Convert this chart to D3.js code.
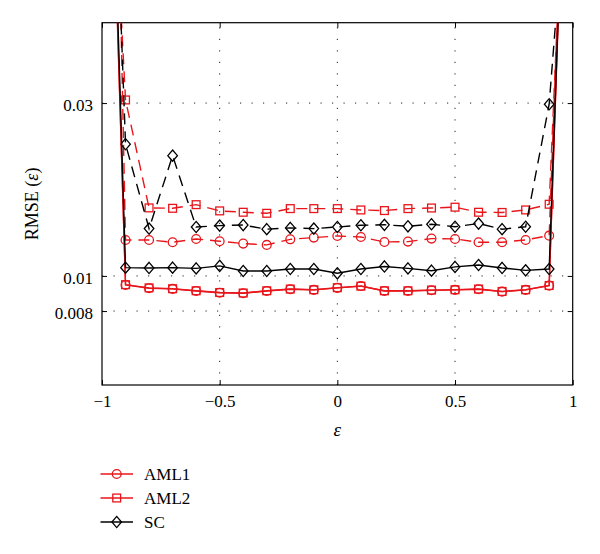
<!DOCTYPE html>
<html>
<head>
<meta charset="utf-8">
<script src="https://cdn.jsdelivr.net/npm/d3@7"></script>
<style>
  html, body { margin: 0; padding: 0; background: #fff; }
  svg { display: block; }
  text { font-family: "Liberation Serif", "DejaVu Serif", serif; }
</style>
</head>
<body>
<svg id="chart" width="600" height="554"></svg>
<script>
// ---- data ----
const epsValues = [-0.95, -0.9, -0.8, -0.7, -0.6, -0.5, -0.4, -0.3, -0.2, -0.1, 0, 0.1, 0.2, 0.3, 0.4, 0.5, 0.6, 0.7, 0.8, 0.9, 0.95];
const aml1Solid  = [0.105, 0.00944, 0.00925, 0.00921, 0.00909, 0.00899, 0.00896, 0.00909, 0.00919, 0.00915, 0.00927, 0.00938, 0.00909, 0.00909, 0.00913, 0.00915, 0.00919, 0.00905, 0.00915, 0.00940, 0.085];
const aml2Solid  = [0.110, 0.00946, 0.00927, 0.00922, 0.00910, 0.00900, 0.00897, 0.00910, 0.00920, 0.00916, 0.00928, 0.00937, 0.00910, 0.00910, 0.00914, 0.00916, 0.00920, 0.00906, 0.00916, 0.00941, 0.088];
const scSolid    = [0.118, 0.01054, 0.01052, 0.01054, 0.01049, 0.01066, 0.01032, 0.01032, 0.01045, 0.01045, 0.01017, 0.01045, 0.01062, 0.01049, 0.01034, 0.01059, 0.01072, 0.01052, 0.01036, 0.01045, 0.085];
const aml1Dashed = [0.45, 0.01257, 0.01257, 0.01239, 0.01265, 0.01247, 0.01228, 0.01218, 0.01262, 0.01276, 0.01289, 0.01281, 0.01241, 0.01244, 0.01268, 0.01265, 0.01239, 0.01239, 0.01257, 0.01292, 0.095];
const aml2Dashed = [0.129, 0.0306, 0.01541, 0.01537, 0.01573, 0.01512, 0.01499, 0.01489, 0.01534, 0.01534, 0.01534, 0.01521, 0.01515, 0.01534, 0.01540, 0.01548, 0.01499, 0.01497, 0.01521, 0.01577, 0.086];
const scDashed   = [0.175, 0.0231, 0.01351, 0.02148, 0.01365, 0.01377, 0.01382, 0.01346, 0.01357, 0.01351, 0.01365, 0.0138, 0.01384, 0.01371, 0.01389, 0.01367, 0.01395, 0.01346, 0.01367, 0.02978, 0.077];

const xTicks = [-1, -0.5, 0, 0.5, 1];
const xTickLabels = ["\u22121", "\u22120.5", "0", "0.5", "1"];
const yTicks = [0.008, 0.01, 0.03];
const yTickLabels = ["0.008", "0.01", "0.03"];
const legendNames = ["AML1", "AML2", "SC"];

// ---- layout ----
const svg = d3.select("#chart");
const L = 102, T = 22.7, W = 470.7, H = 362.3;
const RED = "#e8161b", BLACK = "#000";

const x = d3.scaleLinear().domain([-1, 1]).range([L, L + W]);
const y = d3.scaleLog().domain([0.005, 0.05]).range([T + H, T]);

svg.append("defs").append("clipPath").attr("id", "clip")
  .append("rect").attr("x", L).attr("y", T).attr("width", W).attr("height", H);

// grid
const grid = svg.append("g");
grid.selectAll(".gx").data(xTicks.slice(1, -1)).join("line")
  .attr("x1", d => x(d)).attr("x2", d => x(d)).attr("y1", T + H).attr("y2", T)
  .attr("stroke", "#222").attr("stroke-width", 1).attr("stroke-dasharray", "1.2,10.3");
grid.selectAll(".gy").data(yTicks).join("line")
  .attr("x1", L).attr("x2", L + W).attr("y1", d => y(d)).attr("y2", d => y(d))
  .attr("stroke", "#222").attr("stroke-width", 1).attr("stroke-dasharray", "1.2,10.3");

// axes (inward ticks)
const fontSize = "17px";
const axB = svg.append("g").attr("transform", `translate(0,${T + H})`)
  .call(d3.axisBottom(x).tickValues(xTicks).tickFormat((d, i) => xTickLabels[i]).tickSizeInner(-5).tickSizeOuter(0).tickPadding(10));
const axT = svg.append("g").attr("transform", `translate(0,${T})`)
  .call(d3.axisTop(x).tickValues(xTicks).tickFormat("").tickSizeInner(-5).tickSizeOuter(0));
const axLft = svg.append("g").attr("transform", `translate(${L},0)`)
  .call(d3.axisLeft(y).tickValues(yTicks).tickFormat((d, i) => yTickLabels[i]).tickSizeInner(-5).tickSizeOuter(0).tickPadding(9));
const axR = svg.append("g").attr("transform", `translate(${L + W},0)`)
  .call(d3.axisRight(y).tickValues(yTicks).tickFormat("").tickSizeInner(-5).tickSizeOuter(0));
[axB, axT, axLft, axR].forEach(a => {
  a.select(".domain").remove();
  a.selectAll("line").attr("stroke", "#000").attr("stroke-width", 1);
  a.selectAll("text").attr("font-family", "Liberation Serif").attr("font-size", fontSize).attr("fill", "#000");
});
axB.selectAll("text").attr("dy", "0.71em");
axLft.selectAll("text").attr("dy", "0.42em");

// frame
svg.append("rect").attr("x", L).attr("y", T).attr("width", W).attr("height", H)
  .attr("fill", "none").attr("stroke", "#000").attr("stroke-width", 1.2);

// marker shapes
function drawMarker(g, type, cx, cy, color) {
  if (type === "circle") {
    g.append("circle").attr("cx", cx).attr("cy", cy).attr("r", 4.4)
      .attr("fill", "none").attr("stroke", color).attr("stroke-width", 1.3);
  } else if (type === "square") {
    g.append("rect").attr("x", cx - 3.9).attr("y", cy - 3.9).attr("width", 7.8).attr("height", 7.8)
      .attr("fill", "none").attr("stroke", color).attr("stroke-width", 1.3);
  } else {
    g.append("path").attr("d", `M${cx},${cy - 5.6}L${cx + 4.8},${cy}L${cx},${cy + 5.6}L${cx - 4.8},${cy}Z`)
      .attr("fill", "none").attr("stroke", color).attr("stroke-width", 1.3);
  }
}

const series = [
  { vals: aml1Dashed, color: RED, marker: "circle", dash: "11,7" },
  { vals: aml2Dashed, color: RED, marker: "square", dash: "11,7" },
  { vals: scDashed, color: BLACK, marker: "diamond", dash: "11,7" },
  { vals: aml1Solid, color: RED, marker: "circle", dash: null },
  { vals: aml2Solid, color: RED, marker: "square", dash: null },
  { vals: scSolid, color: BLACK, marker: "diamond", dash: null }
];

const plot = svg.append("g").attr("clip-path", "url(#clip)");
const line = d3.line().x(d => x(d[0])).y(d => y(d[1]));
series.forEach(s => {
  const pts = epsValues.map((e, i) => [e, s.vals[i]]);
  plot.append("path").datum(pts).attr("d", line)
    .attr("fill", "none").attr("stroke", s.color).attr("stroke-width", 1.4)
    .attr("stroke-dasharray", s.dash);
  const mg = plot.append("g");
  pts.forEach(p => drawMarker(mg, s.marker, x(p[0]), y(p[1]), s.color));
});

// axis titles
svg.append("text").attr("x", x(0)).attr("y", 436).attr("text-anchor", "middle")
  .attr("font-size", "19px").attr("font-style", "italic").text("\u03b5");
svg.append("text").attr("transform", `translate(37.5,${T + H / 2}) rotate(-90)`)
  .attr("text-anchor", "middle").attr("font-size", "18px")
  .html('RMSE (<tspan font-style="italic">\u03b5</tspan>)');

// legend
const legend = svg.append("g");
const legendItems = [
  { name: legendNames[0], color: RED, marker: "circle" },
  { name: legendNames[1], color: RED, marker: "square" },
  { name: legendNames[2], color: BLACK, marker: "diamond" }
];
legendItems.forEach((it, i) => {
  const ly = 474 + i * 24;
  legend.append("line").attr("x1", 100.5).attr("x2", 133).attr("y1", ly).attr("y2", ly)
    .attr("stroke", it.color).attr("stroke-width", 1.3);
  drawMarker(legend, it.marker, 116.7, ly, it.color);
  legend.append("text").attr("x", 144).attr("y", ly + 6).attr("font-size", "17px").text(it.name);
});
</script>
</body>
</html>
